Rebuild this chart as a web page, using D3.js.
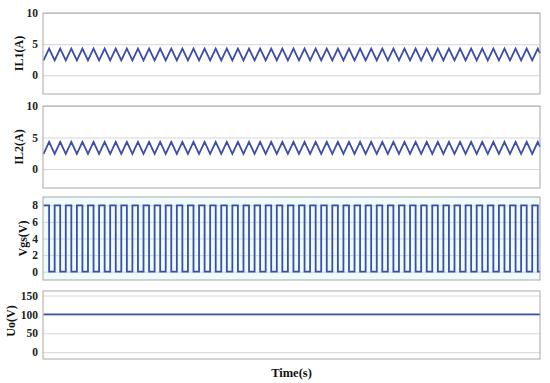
<!DOCTYPE html>
<html>
<head>
<meta charset="utf-8">
<script src="https://cdn.jsdelivr.net/npm/d3@7"></script>
<style>
  body { margin: 0; background: #fff; }
  svg { display: block; }
  .tick text { font-family: "Liberation Serif", "Times New Roman", serif; font-weight: bold; font-size: 11.5px; fill: #222; }
</style>
</head>
<body>
<div id="chart"></div>
<script>
// switching cycles (one period = 1 time unit)
let cycleStart = [0, 1, 2, 3, 4, 5, 6, 7, 8, 9, 10, 11, 12, 13, 14, 15, 16, 17, 18, 19, 20, 21,
                  22, 23, 24, 25, 26, 27, 28, 29, 30, 31, 32, 33, 34, 35, 36, 37, 38, 39, 40, 41, 42, 43, 44];
let tEnd = 44.7;

// levels: [trough/low, peak/high]
let il1Levels = [2.4, 4.3];
let il2Levels = [2.4, 4.3];
let vgsLevels = [0, 8];
let uoTime = [0, 44.7];
let uoValues = [100, 100];

let il1Ticks = [0, 5, 10];
let il2Ticks = [0, 5, 10];
let vgsTicks = [0, 2, 4, 6, 8];
let uoTicks = [0, 50, 100, 150];

let W = 550, H = 383;
let left = 43, right = 540;

let svg = d3.select('#chart').append('svg')
    .attr('width', W)
    .attr('height', H);

let x = d3.scaleLinear()
    .domain([-0.05, tEnd])
    .range([left, right]);

// triangle ripple: rises while switch on, falls while off
function ripple(levels) {
    let pts = [];
    cycleStart.forEach(function(c) {
        pts.push([c, levels[0]]);
        pts.push([c + 0.5, levels[1]]);
    });
    pts.push([tEnd, levels[1] - (levels[1] - levels[0]) * (tEnd - 44.5) / 0.5]);
    return pts;
}

function pulses(levels) {
    let pts = [];
    cycleStart.forEach(function(c) {
        pts.push([c, levels[0]]);
        pts.push([c, levels[1]]);
        pts.push([c + 0.5, levels[1]]);
        pts.push([c + 0.5, levels[0]]);
    });
    pts.shift();
    pts.unshift([0, levels[1]]);
    pts.push([tEnd, levels[0]]);
    return pts;
}

let panels = [
    {label: 'IL1(A)', top: 13, bottom: 94, domain: [-3, 10], ticks: il1Ticks, data: ripple(il1Levels), lx: 19, ly: 0},
    {label: 'IL2(A)', top: 106, bottom: 188, domain: [-3, 10], ticks: il2Ticks, data: ripple(il2Levels), lx: 19, ly: 0},
    {label: 'Vgs(V)', top: 197, bottom: 280, domain: [-1, 9], ticks: vgsTicks, data: pulses(vgsLevels), lx: 23, ly: 0, bg: '#eefcfd'},
    {label: 'Uo(V)', top: 291, bottom: 359, domain: [-18, 162], ticks: uoTicks, data: uoTime.map(function(t, i) { return [t, uoValues[i]]; }), lx: 11, ly: -4}
];

panels.forEach(function(p) {
    let y = d3.scaleLinear()
        .domain(p.domain)
        .range([p.bottom, p.top]);

    let g = svg.append('g');

    g.append('rect')
        .attr('x', left)
        .attr('y', p.top)
        .attr('width', right - left)
        .attr('height', p.bottom - p.top)
        .attr('fill', p.bg || '#fff');

    // grid + tick labels
    let ax = g.append('g')
        .attr('transform', `translate(${left},0)`)
        .call(d3.axisLeft(y).tickValues(p.ticks).tickSize(-(right - left)).tickPadding(5));
    ax.select('.domain').remove();
    ax.selectAll('.tick line').attr('stroke', '#d6d6d6');

    let line = d3.line()
        .x(function(d) { return x(d[0]); })
        .y(function(d) { return y(d[1]); });

    g.append('path')
        .datum(p.data)
        .attr('d', line)
        .attr('fill', 'none')
        .attr('stroke', '#3c4ea8')
        .attr('stroke-width', 1.8)
        .attr('stroke-linejoin', 'miter');

    g.append('rect')
        .attr('x', left)
        .attr('y', p.top)
        .attr('width', right - left)
        .attr('height', p.bottom - p.top)
        .attr('fill', 'none')
        .attr('stroke', '#a8a8a8')
        .attr('stroke-width', 1);

    g.append('text')
        .attr('transform', `translate(${p.lx},${(p.top + p.bottom) / 2 + p.ly}) rotate(-90)`)
        .attr('text-anchor', 'middle')
        .attr('dominant-baseline', 'central')
        .style('font-family', '"Liberation Serif", "Times New Roman", serif')
        .style('font-weight', 'bold')
        .style('font-size', '12px')
        .attr('fill', '#111')
        .text(p.label);
});

svg.append('text')
    .attr('x', (left + right) / 2)
    .attr('y', 377)
    .attr('text-anchor', 'middle')
    .style('font-family', '"Liberation Serif", "Times New Roman", serif')
    .style('font-weight', 'bold')
    .style('font-size', '12.5px')
    .attr('fill', '#111')
    .text('Time(s)');
</script>
</body>
</html>
